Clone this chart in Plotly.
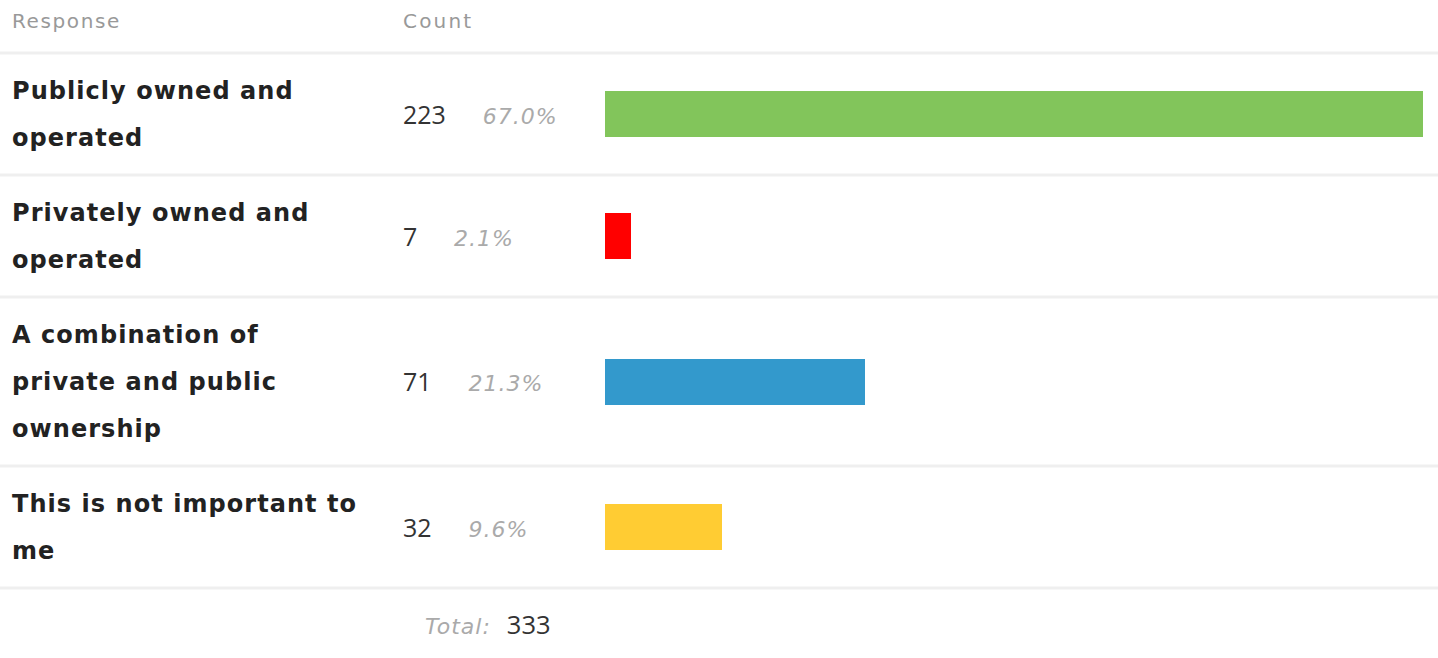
import plotly.graph_objects as go

W, H = 1438, 658

# datos
responses = [
    "Publicly owned and\noperated",
    "Privately owned and\noperated",
    "A combination of\nprivate and public\nownership",
    "This is not important to\nme",
]
counts = [223, 7, 71, 32]
pct_labels = ["67.0%", "2.1%", "21.3%", "9.6%"]
colors = ["#82C55B", "#FF0000", "#3399CC", "#FFCC33"]
total = 333

# geometria de la tabla (pixeles)
HEADER_H = 53
LINE_H = 47
ROW_PAD = 28
BAR_X0, BAR_X1 = 605, 1423
LABEL_X, COUNT_X = 10, 401

LABEL_STYLE = "letter-spacing:1.05px"
PCT_STYLE = ("font-family:'DejaVu Sans';font-size:22px;color:#aaaaaa;"
             "font-style:italic;letter-spacing:1px")
GAP = '<span style="font-family:\'DejaVu Sans\';font-size:20px;letter-spacing:1px">' \
      + "&nbsp;" * 5 + "</span>"

# centros de fila a partir del numero de lineas de cada etiqueta
row_tops, centers = [], []
y = HEADER_H
for r in responses:
    h = ROW_PAD + LINE_H * len(r.split("\n"))
    row_tops.append(y)
    centers.append(y + h / 2)
    y += h
row_tops.append(y)

fig = go.Figure()
fig.add_trace(go.Bar(
    x=counts, y=centers, orientation="h", width=46,
    marker=dict(color=colors, line_width=0),
    hoverinfo="skip", showlegend=False,
))

ann = []
for txt, x, ls in [("Response", LABEL_X, 1.6), ("Count", COUNT_X, 2.2)]:
    ann.append(dict(x=x / W, y=21, text=f'<span style="letter-spacing:{ls}px">{txt}</span>',
                    font=dict(family="DejaVu Sans", size=20, color="#999999")))

for r, c, p, yc in zip(responses, counts, pct_labels, centers):
    lines = r.split("\n")
    n = len(lines)
    for i, ln in enumerate(lines):
        yl = yc + (i - (n - 1) / 2) * LINE_H
        ann.append(dict(x=LABEL_X / W, y=yl,
                        text=f'<span style="{LABEL_STYLE}">{ln}</span>',
                        font=dict(family="DejaVu Sans", size=24, color="#222222",
                                  weight="bold")))
    ann.append(dict(x=COUNT_X / W, y=yc - 0.5,
                    text=f'{c}{GAP}<span style="{PCT_STYLE}">{p}</span>',
                    font=dict(family="Open Sans", size=25, color="#333333")))

ann.append(dict(x=423 / W, y=624,
                text=f'<span style="{PCT_STYLE}">Total:&nbsp;&nbsp;</span>{total}',
                font=dict(family="Open Sans", size=25.5, color="#333333")))

for a in ann:
    a.update(xref="paper", yref="y", xanchor="left", yanchor="middle",
             showarrow=False)

shapes = [dict(type="line", xref="paper", yref="y", x0=0, x1=1, y0=t, y1=t,
               line=dict(color="#efefef", width=3), layer="below")
          for t in row_tops]

fig.update_layout(
    width=W, height=H,
    margin=dict(l=0, r=0, t=0, b=0),
    paper_bgcolor="white", plot_bgcolor="white",
    xaxis=dict(domain=[BAR_X0 / W, BAR_X1 / W], range=[0, max(counts)],
               visible=False, fixedrange=True),
    yaxis=dict(range=[H, 0], visible=False, fixedrange=True),
    annotations=ann, shapes=shapes, bargap=0,
)

fig.write_html("out.html", config={"displayModeBar": False},
               post_script="document.body.style.margin='0';")
